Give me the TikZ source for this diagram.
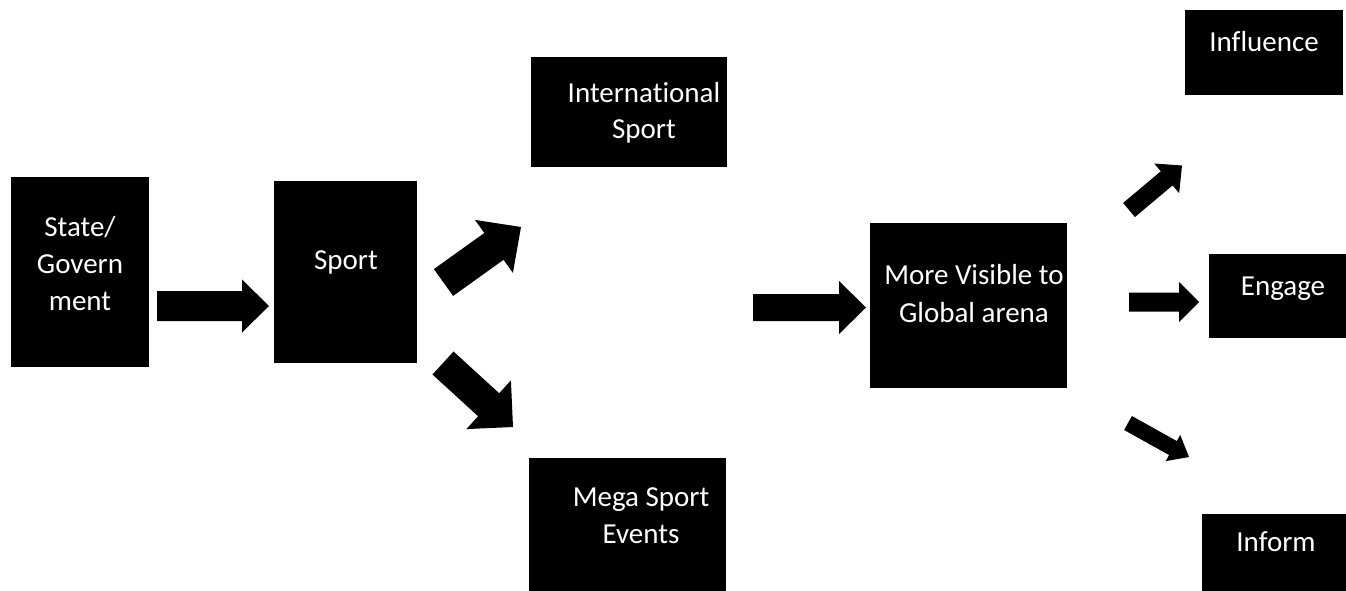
\documentclass[tikz,border=0pt]{standalone}
\usepackage{fontspec}
\setmainfont{Carlito}[Ligatures=NoCommon]
\usetikzlibrary{calc}
\tikzset{
  box/.style={fill=black, draw=none, inner sep=0pt, outer sep=0pt},
  txt/.style={text=white, font=\fontsize{29}{37}\selectfont, anchor=base, inner sep=0pt},
  arrowfill/.style={fill=black}
}
% #1 tail, #2 tip, #3 half shaft width, #4 half head width, #5 head length
\newcommand\blockarrow[5]{%
  \path ($(#2)!#5!(#1)$) coordinate (ba);
  \fill[arrowfill] ($(#1)!#3!90:(#2)$) -- ($(ba)!#3!90:(#2)$) -- ($(ba)!#4!90:(#2)$) -- (#2)
    -- ($(ba)!#4!-90:(#2)$) -- ($(ba)!#3!-90:(#2)$) -- ($(#1)!#3!-90:(#2)$) -- cycle;}
\begin{document}
\begin{tikzpicture}[x=1pt,y=-1pt]
\useasboundingbox (0,0) rectangle (1346,590);
\clip (0,0) rectangle (1346,590);
% boxes
\node[box, minimum width=138pt, minimum height=190pt] (state) at (80,272) {};
\node[box, minimum width=143pt, minimum height=182pt] (sport) at (345.5,272) {};
\node[box, minimum width=196pt, minimum height=110pt] (intl) at (629,112) {};
\node[box, minimum width=197pt, minimum height=142pt] (mega) at (627.5,529) {};
\node[box, minimum width=197pt, minimum height=165pt] (more) at (968.5,305.5) {};
\node[box, minimum width=158pt, minimum height=85pt] (infl) at (1264,52.5) {};
\node[box, minimum width=148pt, minimum height=84pt] (eng) at (1283,296) {};
\node[box, minimum width=148pt, minimum height=89pt] (inf) at (1276,558) {};
% texts
\node[txt] (t1a) at (80,236) {State/};
\node[txt] (t1b) at (80,273) {Govern};
\node[txt] (t1c) at (80,310) {ment};
\node[txt] (t2) at (346,269) {Sport};
\node[txt] (t3a) at (644,102) {International};
\node[txt] (t3b) at (644,138) {Sport};
\node[txt] (t4a) at (641,506) {Mega Sport};
\node[txt] (t4b) at (641,543) {Events};
\node[txt] (t5a) at (974,284) {More Visible to};
\node[txt] (t5b) at (974,322) {Global arena};
\node[txt] (t6) at (1264,51) {Influence};
\node[txt] (t7) at (1283,295) {Engage};
\node[txt] (t8) at (1276,551) {Inform};
% arrow end points
\coordinate (a1t) at (157,306);   \coordinate (a1h) at (269,306);
\coordinate (a2t) at (443.5,282.5); \coordinate (a2h) at (521,227);
\coordinate (a3t) at (443,363);   \coordinate (a3h) at (513,427);
\coordinate (a4t) at (753,307.5); \coordinate (a4h) at (866,307.5);
\coordinate (a5t) at (1129,210);  \coordinate (a5h) at (1182,165.5);
\coordinate (a6t) at (1129,302);  \coordinate (a6h) at (1199,302);
\coordinate (a7t) at (1128,423);  \coordinate (a7h) at (1189,457);
\blockarrow{a1t}{a1h}{15pt}{26.5pt}{27pt}
\blockarrow{a2t}{a2h}{16.5pt}{32.6pt}{33.3pt}
\blockarrow{a3t}{a3h}{15.6pt}{33pt}{33pt}
\blockarrow{a4t}{a4h}{13.5pt}{26.5pt}{27pt}
\blockarrow{a5t}{a5h}{9.2pt}{19.4pt}{20pt}
\blockarrow{a6t}{a6h}{9.5pt}{20pt}{20pt}
\blockarrow{a7t}{a7h}{8pt}{15pt}{18.4pt}
\end{tikzpicture}
\end{document}
